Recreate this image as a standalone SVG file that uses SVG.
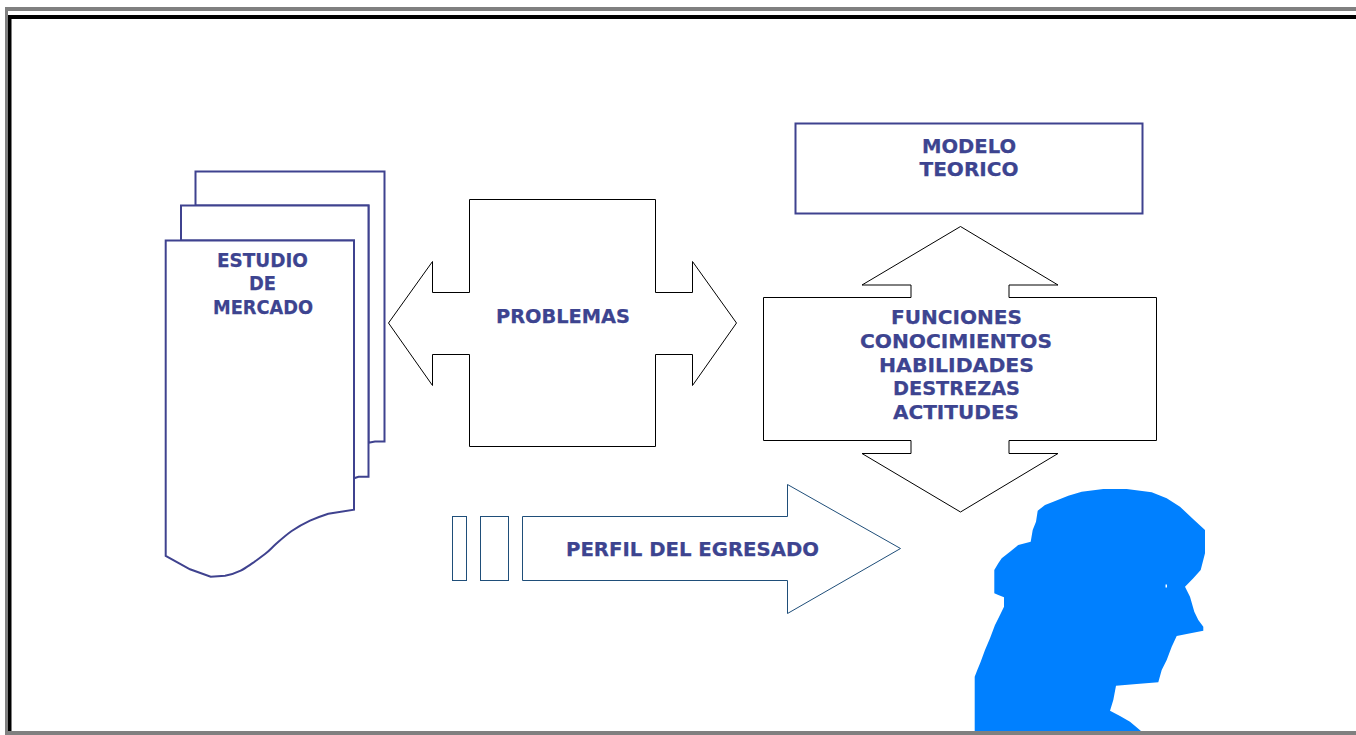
<svg xmlns="http://www.w3.org/2000/svg" width="1356" height="735" viewBox="0 0 1356 735">
<style>
.blue{fill:#fff;stroke:#3f428f;stroke-width:2}
.thin{fill:#fff;stroke:#000;stroke-width:1}
.navy{fill:#fff;stroke:#1f4e79;stroke-width:1}
text{font-family:"DejaVu Sans",Verdana,sans-serif;font-weight:700;font-size:20px;fill:#3d4490;stroke:#3d4490;stroke-width:.25;text-anchor:start}
</style>
<rect width="1356" height="735" fill="#fff"/>
<g id="frame">
<rect x="5" y="7" width="1351" height="4" fill="#808080"/>
<rect x="5" y="7" width="3" height="728" fill="#808080"/>
<rect x="8" y="15" width="1348" height="4" fill="#000"/>
<rect x="8" y="15" width="3.500" height="716" fill="#000"/>
<rect x="5" y="731" width="1351" height="4" fill="#808080"/>
</g>
<g id="estudio">
<path class="blue" d="M195.500 171.500H384.500V441.500H375L368.500 442.700V205.500H195.500Z"/>
<path class="blue" d="M181 205.500H368.500V476.700H358.500L354 478.300V240.500H181Z"/>
<path class="blue" d="M165.700 240.500H354V509.700L328.300 513.700C321 516 315 518.500 310 520.700C303 524 297 527.500 291.700 531C286 535 281 539.500 276.700 543.300C272 547.500 269 551 265 554C261 557 257 560 253.300 562.700C249 565.500 245 568.500 240.700 570.700C236 573 230 575 225 575.700L210.700 576.700L190 569.300L165.700 556Z"/>
<text x="217" y="267" textLength="91" lengthAdjust="spacingAndGlyphs">ESTUDIO</text>
<text x="249" y="290" textLength="27" lengthAdjust="spacingAndGlyphs">DE</text>
<text x="213" y="314" textLength="100" lengthAdjust="spacingAndGlyphs">MERCADO</text>
</g>
<g id="problemas">
<path class="thin" d="M388.500 323L432.500 261.500V292.500H469.500V199.500H655.500V292.500H692.500V261.500L736.500 323L692.500 385.500V354.500H655.500V446.500H469.500V354.500H432.500V385.500Z"/>
<text x="496" y="323" textLength="134" lengthAdjust="spacingAndGlyphs">PROBLEMAS</text>
</g>
<g id="modelo">
<rect class="blue" x="795.500" y="123.500" width="347" height="90"/>
<text x="922" y="153" textLength="94" lengthAdjust="spacingAndGlyphs">MODELO</text>
<text x="919.500" y="176" textLength="99" lengthAdjust="spacingAndGlyphs">TEORICO</text>
</g>
<g id="funciones">
<path class="thin" d="M960.500 226.500L1058 285H1009V297.500H1156.500V440.500H1009V453.500H1058L960.500 512L862 453.500H911V440.500H763.500V297.500H911V285H862Z"/>
<text x="891" y="324" textLength="131" lengthAdjust="spacingAndGlyphs">FUNCIONES</text>
<text x="860" y="348" textLength="192" lengthAdjust="spacingAndGlyphs">CONOCIMIENTOS</text>
<text x="879" y="372" textLength="155" lengthAdjust="spacingAndGlyphs">HABILIDADES</text>
<text x="893" y="395" textLength="127" lengthAdjust="spacingAndGlyphs">DESTREZAS</text>
<text x="893" y="419" textLength="126" lengthAdjust="spacingAndGlyphs">ACTITUDES</text>
</g>
<g id="perfil">
<rect class="navy" x="452.500" y="516.500" width="14" height="64"/>
<rect class="navy" x="480.500" y="516.500" width="28" height="64"/>
<path class="navy" d="M522.500 516.500H787.500V484.500L900.500 548.500L787.500 613.500V580.500H522.500Z"/>
<text x="566" y="556" textLength="253" lengthAdjust="spacingAndGlyphs">PERFIL DEL EGRESADO</text>
</g>
<g id="silueta">
<path fill="#0080ff" fill-rule="evenodd" d="M974.700 731V676.700L977.300 670L980.700 661.700L985 650L990 638.300L995 625L1000 615L1004 606.700V597.300L998.300 595L994.300 593.300V570L998.300 563.300L1001.700 558.300L1010 551.700L1018.300 545L1030.700 541.700L1032.700 530L1036 521.700L1037.700 510.700L1045 505L1053.300 501.700L1068.300 495.700L1081.700 491.700L1103.300 489H1126.700L1151.700 492.300L1166.700 498.300L1180 506.700L1193.300 519.300L1205 530V553.300L1200.700 570L1193.300 578.300L1185 586.700L1190 596.700L1194.300 611.700L1198.300 620L1203.300 626.700V630.700L1186.700 634L1176.700 636L1171.700 646.700L1166.700 660L1161.700 670L1158.300 682.300L1136.700 684L1116 685.700L1113.300 700L1110 710.700L1120 716L1130 721.700L1141 731ZM1165.500 584.500h1.500v3h-1.500Z"/>
</g>
</svg>
